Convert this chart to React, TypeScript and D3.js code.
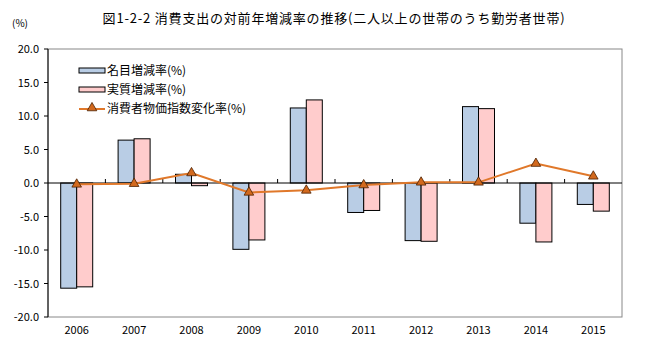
import React from "react";
import * as d3 from "d3";

const years = ["2006", "2007", "2008", "2009", "2010", "2011", "2012", "2013", "2014", "2015"];
const nominal = [-15.7, 6.4, 1.3, -9.9, 11.2, -4.4, -8.6, 11.4, -6.0, -3.2];
const real = [-15.5, 6.6, -0.4, -8.5, 12.4, -4.1, -8.7, 11.1, -8.8, -4.2];
const cpi = [-0.2, -0.1, 1.5, -1.4, -1.1, -0.3, 0.1, 0.1, 2.9, 1.0];
const yTicks = [20, 15, 10, 5, 0, -5, -10, -15, -20];
const seriesNames = ["名目増減率(%)", "実質増減率(%)", "消費者物価指数変化率(%)"];
const title = "図1-2-2 消費支出の対前年増減率の推移(二人以上の世帯のうち勤労者世帯)";

const W = 656, H = 344;
const left = 48, right = 622, top = 49, bottom = 317;
const blue = "#B9CDE5", pink = "#FFCCCC", orange = "#E0782A", markerFill = "#D2691E";
const font = "'Noto Sans CJK JP', sans-serif";

export default function App() {
  const x = d3.scaleBand<string>().domain(years).range([left, right]);
  const y = d3.scaleLinear().domain([-20, 20]).range([bottom, top]);
  const barW = 16;
  const line = d3.line<number>().x((_, i) => x(years[i])! + x.bandwidth() / 2).y((d) => y(d));
  const tri = d3.symbol().type(d3.symbolTriangle).size(40)();
  const y0 = y(0);
  return (
    <svg width={W} height={H} style={{ position: "absolute", left: 0, top: 0, background: "#fff" }} fontFamily={font}>
      <text x={334} y={23} textAnchor="middle" fontSize={13} letterSpacing={0.8} fill="#000">{title}</text>
      <text x={20} y={27} textAnchor="middle" fontSize={10} fill="#000">(%)</text>
      <rect x={left} y={top} width={right - left} height={bottom - top} fill="none" stroke="#888" strokeWidth={1} />
      <line x1={left} x2={left} y1={top} y2={bottom} stroke="#000" />
      {yTicks.map((t) => (
        <g key={t}>
          <line x1={left - 4} x2={left} y1={y(t)} y2={y(t)} stroke="#000" />
          <text x={39} y={y(t) + 4} textAnchor="end" fontSize={11} fill="#000">{t.toFixed(1)}</text>
        </g>
      ))}
      {years.map((yr, i) => {
        const cx = x(yr)! + x.bandwidth() / 2;
        return (
          <g key={yr}>
            <rect x={cx - barW} y={Math.min(y(nominal[i]), y0)} width={barW} height={Math.abs(y(nominal[i]) - y0)} fill={blue} stroke="#000" strokeWidth={1} />
            <rect x={cx} y={Math.min(y(real[i]), y0)} width={barW} height={Math.abs(y(real[i]) - y0)} fill={pink} stroke="#000" strokeWidth={1} />
            <text x={cx} y={334} textAnchor="middle" fontSize={11} fill="#000">{yr}</text>
          </g>
        );
      })}
      <line x1={left} x2={right} y1={y0} y2={y0} stroke="#000" />
      {years.slice(1).map((yr) => (
        <line key={yr} x1={x(yr)!} x2={x(yr)!} y1={y0} y2={y0 - 4} stroke="#000" />
      ))}
      <path d={line(cpi)!} fill="none" stroke={orange} strokeWidth={2} />
      {cpi.map((v, i) => (
        <path key={i} d={tri!} transform={`translate(${x(years[i])! + x.bandwidth() / 2},${y(v)})`} fill={markerFill} stroke="#4a2000" strokeWidth={0.8} />
      ))}
      <g fontSize={12} fill="#000">
        <rect x={79} y={68} width={26} height={5} fill={blue} stroke="#000" />
        <text x={107} y={75}>{seriesNames[0]}</text>
        <rect x={79} y={87} width={26} height={5} fill={pink} stroke="#000" />
        <text x={107} y={94}>{seriesNames[1]}</text>
        <line x1={79} x2={105} y1={109} y2={109} stroke={orange} strokeWidth={2} />
        <path d={tri!} transform="translate(92,108)" fill={markerFill} stroke="#4a2000" strokeWidth={0.8} />
        <text x={107} y={113}>{seriesNames[2]}</text>
      </g>
    </svg>
  );
}
